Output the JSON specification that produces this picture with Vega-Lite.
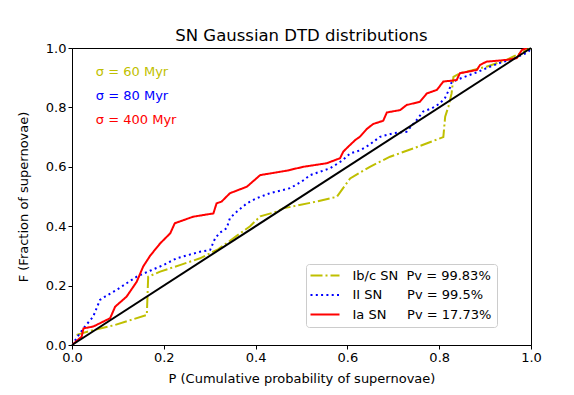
{
  "$schema": "https://vega.github.io/schema/vega-lite/v6.json",
  "width": 459,
  "height": 297,
  "autosize": "none",
  "padding": {"left": 72, "top": 48, "right": 43, "bottom": 50},
  "background": "white",
  "config": {
    "font": "DejaVu Sans",
    "view": {"stroke": "black", "strokeWidth": 1},
    "axis": {"grid": false, "domainColor": "black", "tickColor": "black", "tickSize": 4, "labelColor": "black", "labelFontSize": 13, "titleFontSize": 13, "titleFontWeight": "normal", "titleColor": "black", "labelFont": "DejaVu Sans", "titleFont": "DejaVu Sans", "labelFlush": false, "labelOverlap": false},
    "title": {"fontSize": 16.5, "fontWeight": "normal", "font": "DejaVu Sans", "color": "black", "offset": -2}
  },
  "title": "SN Gaussian DTD distributions",
  "datasets": {
    "cdf": [
      {"s":"Ib/c","i":0,"P":0.01,"F":0.034},{"s":"Ib/c","i":1,"P":0.046,"F":0.05},{"s":"Ib/c","i":2,"P":0.093,"F":0.067},{"s":"Ib/c","i":3,"P":0.163,"F":0.101},{"s":"Ib/c","i":4,"P":0.166,"F":0.23},{"s":"Ib/c","i":5,"P":0.192,"F":0.247},{"s":"Ib/c","i":6,"P":0.235,"F":0.269},{"s":"Ib/c","i":7,"P":0.279,"F":0.292},{"s":"Ib/c","i":8,"P":0.319,"F":0.323},{"s":"Ib/c","i":9,"P":0.388,"F":0.4},{"s":"Ib/c","i":10,"P":0.41,"F":0.433},{"s":"Ib/c","i":11,"P":0.446,"F":0.449},{"s":"Ib/c","i":12,"P":0.46,"F":0.46},{"s":"Ib/c","i":13,"P":0.533,"F":0.483},{"s":"Ib/c","i":14,"P":0.577,"F":0.499},{"s":"Ib/c","i":15,"P":0.606,"F":0.561},{"s":"Ib/c","i":16,"P":0.649,"F":0.6},{"s":"Ib/c","i":17,"P":0.693,"F":0.634},{"s":"Ib/c","i":18,"P":0.744,"F":0.662},{"s":"Ib/c","i":19,"P":0.809,"F":0.7},{"s":"Ib/c","i":20,"P":0.813,"F":0.769},{"s":"Ib/c","i":21,"P":0.82,"F":0.802},{"s":"Ib/c","i":22,"P":0.827,"F":0.847},{"s":"Ib/c","i":23,"P":0.831,"F":0.903},{"s":"Ib/c","i":24,"P":0.845,"F":0.915},{"s":"Ib/c","i":25,"P":0.903,"F":0.937},{"s":"Ib/c","i":26,"P":0.947,"F":0.96},{"s":"Ib/c","i":27,"P":0.961,"F":0.971},{"s":"Ib/c","i":28,"P":1.0,"F":1.0},
      {"s":"II","i":0,"P":0.0,"F":0.0},{"s":"II","i":1,"P":0.017,"F":0.039},{"s":"II","i":2,"P":0.028,"F":0.062},{"s":"II","i":3,"P":0.046,"F":0.095},{"s":"II","i":4,"P":0.061,"F":0.152},{"s":"II","i":5,"P":0.072,"F":0.163},{"s":"II","i":6,"P":0.097,"F":0.185},{"s":"II","i":7,"P":0.119,"F":0.208},{"s":"II","i":8,"P":0.141,"F":0.23},{"s":"II","i":9,"P":0.17,"F":0.25},{"s":"II","i":10,"P":0.199,"F":0.269},{"s":"II","i":11,"P":0.228,"F":0.292},{"s":"II","i":12,"P":0.279,"F":0.314},{"s":"II","i":13,"P":0.301,"F":0.32},{"s":"II","i":14,"P":0.312,"F":0.36},{"s":"II","i":15,"P":0.322,"F":0.378},{"s":"II","i":16,"P":0.337,"F":0.393},{"s":"II","i":17,"P":0.344,"F":0.427},{"s":"II","i":18,"P":0.359,"F":0.449},{"s":"II","i":19,"P":0.381,"F":0.477},{"s":"II","i":20,"P":0.402,"F":0.494},{"s":"II","i":21,"P":0.431,"F":0.511},{"s":"II","i":22,"P":0.475,"F":0.528},{"s":"II","i":23,"P":0.5,"F":0.55},{"s":"II","i":24,"P":0.519,"F":0.572},{"s":"II","i":25,"P":0.562,"F":0.595},{"s":"II","i":26,"P":0.588,"F":0.62},{"s":"II","i":27,"P":0.606,"F":0.645},{"s":"II","i":28,"P":0.627,"F":0.655},{"s":"II","i":29,"P":0.646,"F":0.672},{"s":"II","i":30,"P":0.671,"F":0.701},{"s":"II","i":31,"P":0.7,"F":0.713},{"s":"II","i":32,"P":0.729,"F":0.718},{"s":"II","i":33,"P":0.751,"F":0.758},{"s":"II","i":34,"P":0.765,"F":0.786},{"s":"II","i":35,"P":0.784,"F":0.797},{"s":"II","i":36,"P":0.802,"F":0.814},{"s":"II","i":37,"P":0.813,"F":0.833},{"s":"II","i":38,"P":0.824,"F":0.868},{"s":"II","i":39,"P":0.827,"F":0.885},{"s":"II","i":40,"P":0.852,"F":0.901},{"s":"II","i":41,"P":0.882,"F":0.918},{"s":"II","i":42,"P":0.907,"F":0.935},{"s":"II","i":43,"P":0.936,"F":0.952},{"s":"II","i":44,"P":0.961,"F":0.963},{"s":"II","i":45,"P":0.976,"F":0.974},{"s":"II","i":46,"P":0.994,"F":0.986},{"s":"II","i":47,"P":1.0,"F":1.0},
      {"s":"Ia","i":0,"P":0.0,"F":0.0},{"s":"Ia","i":1,"P":0.021,"F":0.028},{"s":"Ia","i":2,"P":0.025,"F":0.056},{"s":"Ia","i":3,"P":0.046,"F":0.062},{"s":"Ia","i":4,"P":0.083,"F":0.09},{"s":"Ia","i":5,"P":0.094,"F":0.129},{"s":"Ia","i":6,"P":0.119,"F":0.163},{"s":"Ia","i":7,"P":0.141,"F":0.213},{"s":"Ia","i":8,"P":0.155,"F":0.264},{"s":"Ia","i":9,"P":0.17,"F":0.3},{"s":"Ia","i":10,"P":0.192,"F":0.342},{"s":"Ia","i":11,"P":0.214,"F":0.376},{"s":"Ia","i":12,"P":0.224,"F":0.41},{"s":"Ia","i":13,"P":0.264,"F":0.432},{"s":"Ia","i":14,"P":0.308,"F":0.443},{"s":"Ia","i":15,"P":0.315,"F":0.477},{"s":"Ia","i":16,"P":0.326,"F":0.483},{"s":"Ia","i":17,"P":0.344,"F":0.511},{"s":"Ia","i":18,"P":0.381,"F":0.533},{"s":"Ia","i":19,"P":0.41,"F":0.572},{"s":"Ia","i":20,"P":0.468,"F":0.587},{"s":"Ia","i":21,"P":0.504,"F":0.6},{"s":"Ia","i":22,"P":0.555,"F":0.612},{"s":"Ia","i":23,"P":0.584,"F":0.629},{"s":"Ia","i":24,"P":0.591,"F":0.651},{"s":"Ia","i":25,"P":0.602,"F":0.668},{"s":"Ia","i":26,"P":0.617,"F":0.69},{"s":"Ia","i":27,"P":0.627,"F":0.701},{"s":"Ia","i":28,"P":0.642,"F":0.727},{"s":"Ia","i":29,"P":0.656,"F":0.744},{"s":"Ia","i":30,"P":0.678,"F":0.755},{"s":"Ia","i":31,"P":0.686,"F":0.783},{"s":"Ia","i":32,"P":0.715,"F":0.791},{"s":"Ia","i":33,"P":0.729,"F":0.808},{"s":"Ia","i":34,"P":0.758,"F":0.819},{"s":"Ia","i":35,"P":0.773,"F":0.847},{"s":"Ia","i":36,"P":0.795,"F":0.859},{"s":"Ia","i":37,"P":0.809,"F":0.887},{"s":"Ia","i":38,"P":0.838,"F":0.892},{"s":"Ia","i":39,"P":0.845,"F":0.915},{"s":"Ia","i":40,"P":0.882,"F":0.926},{"s":"Ia","i":41,"P":0.889,"F":0.943},{"s":"Ia","i":42,"P":0.903,"F":0.954},{"s":"Ia","i":43,"P":0.947,"F":0.96},{"s":"Ia","i":44,"P":0.969,"F":0.966},{"s":"Ia","i":45,"P":0.98,"F":0.993},{"s":"Ia","i":46,"P":0.991,"F":1.0}
    ],
    "diag": [{"P":0,"F":0},{"P":1,"F":1}]
  },
  "layer": [
    {
      "data": {"name": "cdf"},
      "mark": {"type": "line", "strokeWidth": 2, "clip": true},
      "encoding": {
        "x": {"field": "P", "type": "quantitative", "scale": {"domain": [0, 1], "nice": false}, "axis": {"values": [0, 0.2, 0.4, 0.6, 0.8, 1.0], "format": ".1f", "title": "P (Cumulative probability of supernovae)", "titlePadding": 8}},
        "y": {"field": "F", "type": "quantitative", "scale": {"domain": [0, 1], "nice": false}, "axis": {"values": [0, 0.2, 0.4, 0.6, 0.8, 1.0], "format": ".1f", "title": "F (Fraction of supernovae)", "titlePadding": 15}},
        "order": {"field": "i", "type": "quantitative"},
        "color": {"field": "s", "type": "nominal", "scale": {"domain": ["Ib/c", "II", "Ia"], "range": ["#bfbf00", "#0000ff", "#ff0000"]},
          "legend": {"title": null, "orient": "none", "legendX": 234, "legendY": 216, "symbolType": "M-2.9,0L2.9,0", "symbolSize": 100, "symbolOffset": 7.5, "symbolStrokeWidth": 2, "labelFontSize": 13, "labelColor": "black", "labelOffset": 21, "rowPadding": 5.5, "padding": 5, "strokeColor": "#cccccc", "fillColor": "white", "cornerRadius": 3,
            "labelExpr": "datum.label == 'Ib/c' ? 'Ib/c SN\u00a0\u00a0Pv = 99.83%\u00a0' : datum.label == 'II' ? 'II SN\u00a0\u00a0\u00a0\u00a0\u00a0\u00a0Pv = 99.5%' : 'Ia SN\u00a0\u00a0\u00a0\u00a0\u00a0Pv = 17.73%'"}},
        "strokeDash": {"field": "s", "type": "nominal", "scale": {"domain": ["Ib/c", "II", "Ia"], "range": [[12, 3, 2, 3], [2, 3.3], [1, 0]]}, "legend": null}
      }
    },
    {
      "data": {"name": "diag"},
      "mark": {"type": "line", "color": "black", "strokeWidth": 2},
      "encoding": {"x": {"field": "P", "type": "quantitative"}, "y": {"field": "F", "type": "quantitative"}}
    },
    {
      "data": {"values": [{"P": 0.052, "F": 0.92, "t": "σ = 60 Myr"}]},
      "mark": {"type": "text", "align": "left", "baseline": "middle", "fontSize": 13, "color": "#bfbf00"},
      "encoding": {"x": {"field": "P", "type": "quantitative"}, "y": {"field": "F", "type": "quantitative"}, "text": {"field": "t"}}
    },
    {
      "data": {"values": [{"P": 0.052, "F": 0.838, "t": "σ = 80 Myr"}]},
      "mark": {"type": "text", "align": "left", "baseline": "middle", "fontSize": 13, "color": "#0000ff"},
      "encoding": {"x": {"field": "P", "type": "quantitative"}, "y": {"field": "F", "type": "quantitative"}, "text": {"field": "t"}}
    },
    {
      "data": {"values": [{"P": 0.052, "F": 0.758, "t": "σ = 400 Myr"}]},
      "mark": {"type": "text", "align": "left", "baseline": "middle", "fontSize": 13, "color": "#ff0000"},
      "encoding": {"x": {"field": "P", "type": "quantitative"}, "y": {"field": "F", "type": "quantitative"}, "text": {"field": "t"}}
    }
  ]
}
